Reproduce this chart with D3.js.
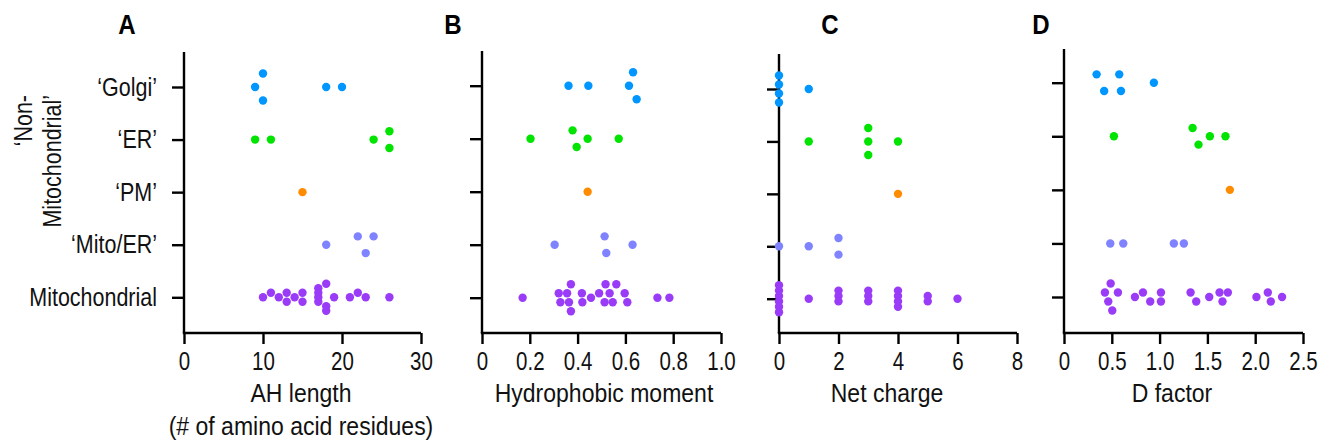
<!DOCTYPE html>
<html lang="en">
<head>
  <meta charset="UTF-8" />
  <title>AH properties by localisation</title>
  <script src="https://d3js.org/d3.v7.min.js"></script>
  <style>
    html, body {
      margin: 0;
      padding: 0;
      background: #fff;
      overflow: hidden;
    }
    svg {
      display: block;
      font-family: "Liberation Sans", Arial, sans-serif;
    }
    .axis path, .axis line {
      stroke: #000;
      stroke-width: 2.4px;
    }
    .axis text {
      font-family: inherit;
      font-size: 25px;
      fill: #111;
    }
  </style>
</head>
<body>
<svg></svg>

<script>
const categories = ["\u2018Golgi\u2019", "\u2018ER\u2019", "\u2018PM\u2019", "\u2018Mito/ER\u2019", "Mitochondrial"];
const colors = ["#0096ff", "#00e400", "#ff8c00", "#7f83ff", "#9a3cf7"];

// one list per category, same order as categories
const ahLength = [
  [10, 10, 9, 18, 20],
  [9, 11, 24, 26, 26],
  [15],
  [18, 22, 23, 24],
  [10, 11, 12, 13, 13, 14, 15, 15, 17, 17, 17, 17, 18, 18, 18, 19, 21, 22, 23, 26]
];
const hydroMoment = [
  [0.362, 0.445, 0.615, 0.647, 0.632],
  [0.203, 0.379, 0.396, 0.442, 0.572],
  [0.442],
  [0.304, 0.513, 0.520, 0.630],
  [0.170, 0.321, 0.328, 0.356, 0.364, 0.372, 0.372, 0.418, 0.420, 0.456,
   0.490, 0.513, 0.517, 0.534, 0.547, 0.562, 0.597, 0.608, 0.734, 0.784]
];
const netCharge = [
  [0, 0, 0, 0, 1],
  [1, 3, 3, 3, 4],
  [4],
  [0, 1, 2, 2],
  [0, 0, 0, 0, 0, 0, 1, 2, 2, 2, 3, 3, 3, 4, 4, 4, 4, 5, 5, 6]
];
const dFactor = [
  [0.341, 0.420, 0.578, 0.596, 0.940],
  [0.522, 1.345, 1.407, 1.526, 1.689],
  [1.735],
  [0.484, 0.620, 1.149, 1.254],
  [0.428, 0.463, 0.488, 0.505, 0.564, 0.742, 0.826, 0.902, 1.014, 1.014,
   1.324, 1.383, 1.519, 1.627, 1.658, 1.714, 2.013, 2.132, 2.163, 2.281]
];

const ahTicks = [0, 10, 20, 30];
const hmTicks = [0, 0.2, 0.4, 0.6, 0.8, 1.0];
const ncTicks = [0, 2, 4, 6, 8];
const dfTicks = [0, 0.5, 1.0, 1.5, 2.0, 2.5];

const fmt1 = d => d === 0 ? "0" : d.toFixed(1);

// layout of the four panels
const axisY = 333;
const panels = [
  { letter: "A", letterX: 127, data: ahLength, ticks: ahTicks, fmt: d => d, x0: 184, x1: 421,
    top: 52, y0: 87, y1: 297.3, title: ["AH length", "(# of amino acid residues)"], titleX: 301 },
  { letter: "B", letterX: 453, data: hydroMoment, ticks: hmTicks, fmt: fmt1, x0: 482, x1: 721,
    top: 51, y0: 85.7, y1: 297.7, title: ["Hydrophobic moment"], titleX: 604 },
  { letter: "C", letterX: 830, data: netCharge, ticks: ncTicks, fmt: d => d, x0: 779, x1: 1017,
    top: 54, y0: 89, y1: 298.7, title: ["Net charge"], titleX: 887 },
  { letter: "D", letterX: 1041, data: dFactor, ticks: dfTicks, fmt: fmt1, x0: 1064, x1: 1303,
    top: 49, y0: 82.7, y1: 297, title: ["D factor"], titleX: 1172 }
];

const svg = d3.select("svg").attr("width", 1318).attr("height", 441);
const R = 4.2;
// the figure uses a condensed sans, so squeeze the regular one
const SX_TICK = 0.82, SX_CAT = 0.86, SX_TITLE = 0.92;

// squeeze axis texts horizontally around their anchor
function squeeze(sel, sx) {
  sel.each(function () {
    const t = d3.select(this);
    const x = +t.attr("x") || 0;
    t.attr("x", x / sx).attr("transform", `scale(${sx},1)`);
  });
}

// Prism-like scatter: overlapping points share lanes across a band of +-13.5px
function swarm(vals, x) {
  const D = 8;
  const pts = vals.map(v => ({ v, px: x(v) })).sort((a, b) => a.px - b.px);
  let K = 1;
  for (let i = 0; i < pts.length; i++) {
    let c = 0;
    for (let j = i; j < pts.length && pts[j].px - pts[i].px < D; j++) c++;
    K = Math.max(K, c);
  }
  const s = K > 1 ? Math.min(16.7, 27 / (K - 1)) : 0;
  const lanes = d3.range(K).map(i => (i - (K - 1) / 2) * s);
  const order = d3.range(K).sort((a, b) => Math.abs(lanes[a]) - Math.abs(lanes[b]) || lanes[a] - lanes[b]);
  const last = new Array(K).fill(-Infinity);
  pts.forEach((p, i) => {
    const lone = !pts.some((q, j) => j !== i && Math.abs(q.px - p.px) < D);
    if (lone) { p.dy = 0; return; }
    const k = order.find(k => p.px - last[k] >= D);
    last[k] = p.px;
    p.dy = lanes[k];
  });
  return pts;
}

panels.forEach(p => {
  const x = d3.scaleLinear().domain([p.ticks[0], p.ticks[p.ticks.length - 1]]).range([p.x0, p.x1]);
  const y = d3.scalePoint().domain(categories).range([p.y0, p.y1]);
  const g = svg.append("g");

  g.append("g")
    .attr("class", "axis")
    .attr("transform", `translate(0,${axisY})`)
    .call(d3.axisBottom(x).tickValues(p.ticks).tickFormat(p.fmt).tickSize(11).tickSizeOuter(0).tickPadding(8))
    .call(a => a.select(".domain").attr("d", `M${p.x0 - 1.2},0H${p.x1}`))
    .call(a => a.selectAll("text").call(squeeze, SX_TICK));

  const yAxis = g.append("g")
    .attr("class", "axis")
    .attr("transform", `translate(${p.x0},0)`)
    .call(d3.axisLeft(y).tickSize(12).tickPadding(15).tickFormat(p.letter === "A" ? d => d : () => ""));
  yAxis.select(".domain").attr("d", `M0,${p.top}V${axisY}`);
  yAxis.selectAll("text").call(squeeze, SX_CAT);

  // letter
  g.append("text")
    .attr("transform", `translate(${p.letterX},34) scale(0.86,1)`)
    .attr("text-anchor", "middle")
    .attr("font-size", 28).attr("font-weight", "bold")
    .attr("fill", "#000")
    .text(p.letter);

  // axis title
  p.title.forEach((t, i) => {
    g.append("text")
      .attr("transform", `translate(${p.titleX},${402 + i * 33}) scale(${SX_TITLE},1)`)
      .attr("text-anchor", "middle")
      .attr("font-size", 25).attr("fill", "#111")
      .text(t);
  });

  // dots
  p.data.forEach((vals, ci) => {
    const pts = swarm(vals, x);
    g.append("g")
      .selectAll("circle")
      .data(pts)
      .join("circle")
      .attr("cx", d => d.px)
      .attr("cy", d => y(categories[ci]) + d.dy)
      .attr("r", R)
      .attr("fill", colors[ci]);
  });
});

// y title of panel A
["\u2018Non-", "Mitochondrial\u2019"].forEach((t, i) => {
  svg.append("text")
    .attr("transform", `translate(${32 + i * 28.5},95) rotate(-90) scale(${SX_CAT},1)`)
    .attr("text-anchor", "end")
    .attr("font-size", 25).attr("fill", "#111")
    .text(t);
});
</script>
</body>
</html>
